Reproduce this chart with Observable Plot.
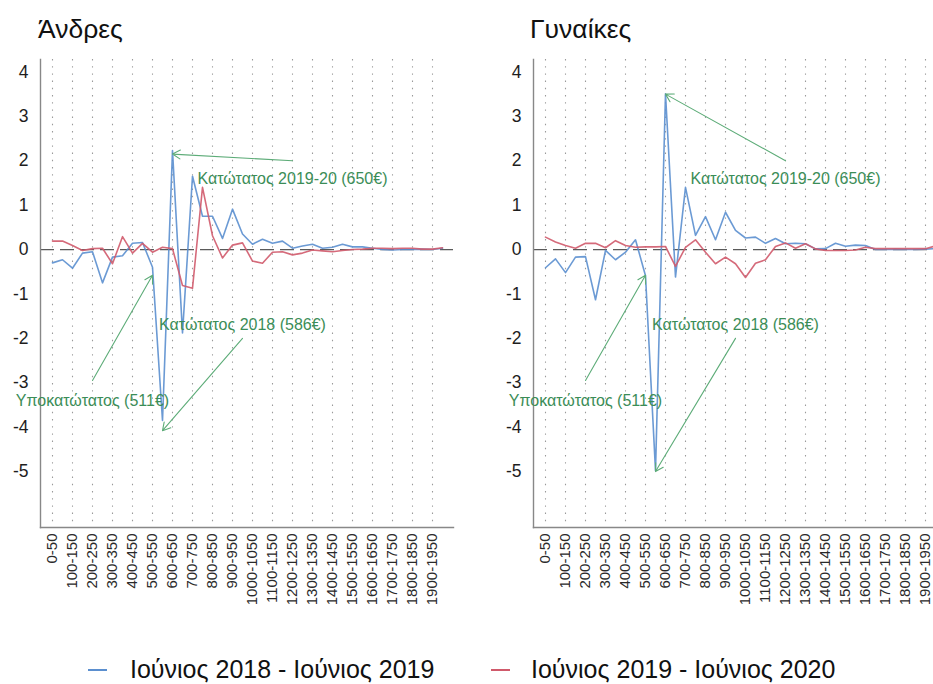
<!DOCTYPE html>
<html>
<head>
<meta charset="utf-8">
<script src="https://cdn.jsdelivr.net/npm/d3@7"></script>
<script src="https://cdn.jsdelivr.net/npm/@observablehq/plot@0.6"></script>
<style>
  html, body { margin: 0; padding: 0; background: #fff; overflow: hidden; width: 933px; height: 684px; }
  body { font-family: "Liberation Sans", Arial, sans-serif; position: relative; }
  .panel { position: absolute; top: 0; width: 470px; height: 612px; }
  .panel svg { max-width: none !important; width: 470px; height: 612px; }
  .title { position: absolute; font-size: 26.5px; color: #111; line-height: 1; }
  .leg { position: absolute; font-size: 25px; color: #111; line-height: 1; white-space: nowrap; }
  .legline { position: absolute; height: 2px; }
</style>
</head>
<body>
<script>
// Income bands (x categories)
const bands = ["0-50","50-100","100-150","150-200","200-250","250-300","300-350","350-400","400-450","450-500",
  "500-550","550-600","600-650","650-700","700-750","750-800","800-850","850-900","900-950","950-1000",
  "1000-1050","1050-1100","1100-1150","1150-1200","1200-1250","1250-1300","1300-1350","1350-1400","1400-1450","1450-1500",
  "1500-1550","1550-1600","1600-1650","1650-1700","1700-1750","1750-1800","1800-1850","1850-1900","1900-1950","1950-2000"];
// Labelled ticks (every other band)
const tickBands = ["0-50","100-150","200-250","300-350","400-450","500-550","600-650","700-750","800-850","900-950",
  "1000-1050","1100-1150","1200-1250","1300-1350","1400-1450","1500-1550","1600-1650","1700-1750","1800-1850","1900-1950"];
const yTicks = [-5,-4,-3,-2,-1,0,1,2,3,4];

const seriesNames = ["Ιούνιος 2018 - Ιούνιος 2019", "Ιούνιος 2019 - Ιούνιος 2020"];
const panelTitles = ["Άνδρες", "Γυναίκες"];

// Men
const men1819 = [-0.30,-0.23,-0.42,-0.08,-0.05,-0.75,-0.17,-0.14,0.14,0.16,-0.40,-3.85,2.23,-1.88,1.65,0.75,0.75,0.25,0.91,0.35,
  0.12,0.23,0.14,0.19,0.03,0.08,0.12,0.03,0.05,0.12,0.06,0.06,0.03,0.00,-0.01,0.00,0.00,0.01,0.00,0.03];
const men1920 = [0.19,0.19,0.09,-0.02,0.02,0.03,-0.32,0.29,-0.08,0.14,-0.06,0.05,0.02,-0.81,-0.87,1.40,0.31,-0.19,0.10,0.15,
  -0.26,-0.31,-0.06,-0.05,-0.12,-0.08,-0.01,-0.03,-0.05,-0.02,0.00,0.01,0.03,0.03,0.02,0.03,0.03,0.01,0.01,0.04];
// Women
const women1819 = [-0.41,-0.21,-0.52,-0.17,-0.16,-1.13,-0.02,-0.23,-0.06,0.22,-0.59,-4.98,3.51,-0.62,1.40,0.32,0.74,0.22,0.84,0.43,
  0.26,0.28,0.14,0.25,0.13,0.14,0.13,0.015,0.02,0.14,0.075,0.10,0.09,0.00,0.00,0.01,0.00,0.00,0.01,0.02];
const women1920 = [0.28,0.17,0.09,0.03,0.14,0.14,0.04,0.20,0.09,0.05,0.06,0.06,0.07,-0.38,0.05,0.22,-0.06,-0.32,-0.17,-0.32,
  -0.63,-0.31,-0.23,0.07,0.15,0.03,0.13,0.015,-0.02,-0.02,-0.02,-0.01,0.05,0.02,0.02,0.02,0.02,0.02,0.02,0.08];

// Annotations
const annoLabels = ["Κατώτατος 2019-20 (650€)", "Κατώτατος 2018 (586€)", "Υποκατώτατος (511€)"];
const annoTextX = ["1200-1250", "950-1000", "200-250"];
const annoTextY = [1.6, -1.7, -3.4];
const arrowFromX = ["1200-1250", "950-1000", "200-250"];
const arrowFromY = [2.0, -2.0, -2.95];
const arrowToX = ["600-650", "550-600", "500-550"];
const arrowToYMen = [2.15, -4.08, -0.58];
const arrowToYWomen = [3.5, -5.0, -0.58];

const BLUE = "#5b8fcf", RED = "#d05a6b", GREEN_TXT = "#3b8d57", GREEN_ARW = "#5dac78";

function panel(blueVals, redVals, arrowToY) {
  const blue = bands.map((b, i) => ({band: b, v: blueVals[i]}));
  const red = bands.map((b, i) => ({band: b, v: redVals[i]}));
  const annos = annoLabels.map((t, i) => ({
    text: t, tx: annoTextX[i], ty: annoTextY[i],
    x1: arrowFromX[i], y1: arrowFromY[i], x2: arrowToX[i], y2: arrowToY[i]
  }));
  return Plot.plot({
    width: 470, height: 612,
    marginLeft: 40, marginRight: 17, marginTop: 59, marginBottom: 85,
    style: {background: "transparent", fontFamily: "Liberation Sans, Arial, sans-serif", maxWidth: "none"},
    x: {type: "point", domain: bands, padding: 1.15},
    y: {domain: [-6.26, 4.28]},
    marks: [
      Plot.ruleX(tickBands, {stroke: "#9a9a9a", strokeDasharray: "1.4,5.8", strokeWidth: 1.1}),
      Plot.ruleY([0], {stroke: "#5a5a5a", strokeDasharray: "14,6", strokeWidth: 1.3}),
      Plot.frame({anchor: "left", stroke: "#888", strokeWidth: 1.4}),
      Plot.frame({anchor: "bottom", stroke: "#888", strokeWidth: 1.4}),
      Plot.axisY({ticks: yTicks, tickSize: 0, tickPadding: 12, tickFormat: d => String(d),
        fontSize: 17.5, fill: "#1e1e1e", label: null}),
      Plot.axisX({ticks: tickBands, tickSize: 0, tickPadding: 6, tickRotate: -90,
        fontSize: 15, fill: "#2a2a2a", label: null}),
      Plot.line(blue, {x: "band", y: "v", stroke: BLUE, strokeWidth: 1.6, strokeOpacity: 0.9}),
      Plot.line(red, {x: "band", y: "v", stroke: RED, strokeWidth: 1.6, strokeOpacity: 0.9}),
      Plot.arrow(annos, {x1: "x1", y1: "y1", x2: "x2", y2: "y2", stroke: GREEN_ARW, strokeWidth: 1.1,
        headLength: 12, headAngle: 60}),
      Plot.text(annos, {x: "tx", y: "ty", text: "text", fill: GREEN_TXT, fontSize: 16})
    ]
  });
}

function addPanel(left, svg, title, titleLeft) {
  const div = document.createElement("div");
  div.className = "panel";
  div.style.left = left + "px";
  div.appendChild(svg);
  document.body.appendChild(div);
  const t = document.createElement("div");
  t.className = "title";
  t.style.left = titleLeft + "px";
  t.style.top = "16px";
  t.textContent = title;
  document.body.appendChild(t);
}

addPanel(0, panel(men1819, men1920, arrowToYMen), panelTitles[0], 38);
addPanel(493, panel(women1819, women1920, arrowToYWomen), panelTitles[1], 530);

// Legend
const legItems = [
  {name: seriesNames[0], color: BLUE, lineLeft: 88, textLeft: 130},
  {name: seriesNames[1], color: RED, lineLeft: 491, textLeft: 531}
];
for (const it of legItems) {
  const ln = document.createElement("div");
  ln.className = "legline";
  ln.style.left = it.lineLeft + "px";
  ln.style.width = "19px";
  ln.style.top = "669px";
  ln.style.background = it.color;
  document.body.appendChild(ln);
  const tx = document.createElement("div");
  tx.className = "leg";
  tx.style.left = it.textLeft + "px";
  tx.style.top = "657px";
  tx.textContent = it.name;
  document.body.appendChild(tx);
}
</script>
</body>
</html>
